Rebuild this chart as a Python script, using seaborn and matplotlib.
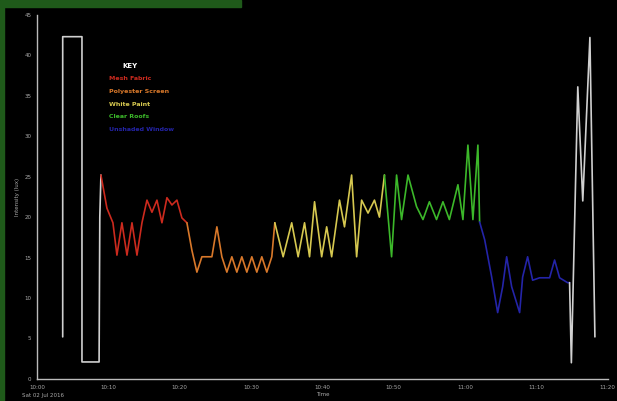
import matplotlib
matplotlib.use("Agg")
import matplotlib.pyplot as plt
import seaborn as sns
import pandas as pd
from matplotlib.patches import Rectangle
from matplotlib.ticker import MultipleLocator

# ---- data (time in minutes, intensity) ----
white_start_t = [3.6, 3.6, 6.3, 6.3, 8.7, 8.8, 8.96]
white_start_v = [5.2, 42.3, 42.3, 2.1, 2.1, 20.0, 25.2]

red_t = [8.96, 9.8, 10.64, 11.2, 11.9, 12.61, 13.31, 14.01, 14.71, 15.41, 16.11, 16.81, 17.51,
         18.21, 18.91, 19.61, 20.31, 21.01]
red_v = [25.2, 21.1, 19.3, 15.3, 19.3, 15.3, 19.3, 15.3, 19.3, 22.1, 20.6, 22.1, 19.3,
         22.4, 21.5, 22.1, 19.9, 19.3]

orange_t = [21.01, 21.71, 22.41, 23.11, 24.51, 25.21, 25.91, 26.61, 27.31, 28.01, 28.71, 29.41,
            30.11, 30.81, 31.51, 32.21, 32.91, 33.33]
orange_v = [19.3, 15.9, 13.2, 15.1, 15.1, 18.8, 15.1, 13.2, 15.1, 13.2, 15.1, 13.2,
            15.1, 13.2, 15.1, 13.2, 15.1, 19.3]

yellow_t = [33.33, 34.5, 35.7, 36.6, 37.5, 38.2, 38.9, 39.9, 40.6, 41.3, 42.4, 43.1, 44.1, 44.8,
            45.5, 46.4, 47.3, 48.0, 48.7]
yellow_v = [19.3, 15.1, 19.3, 15.1, 19.3, 15.1, 21.9, 15.1, 18.8, 15.1, 22.1, 18.8, 25.2, 15.1,
            22.1, 20.5, 22.1, 20.0, 25.2]

green_t = [48.7, 49.7, 50.4, 51.1, 52.0, 53.2, 54.1, 55.0, 56.0, 56.9, 57.8, 59.0, 59.7, 60.4,
           61.1, 61.8, 62.04]
green_v = [25.2, 15.1, 25.2, 19.7, 25.2, 21.3, 19.7, 21.9, 19.7, 21.9, 19.7, 24.0, 19.7, 28.9,
           19.7, 28.9, 19.4]

blue_t = [62.04, 62.75, 63.73, 64.57, 65.27, 65.83, 66.53, 67.65, 68.07, 68.77, 69.47, 70.45,
          71.85, 72.55, 73.25, 74.37, 74.65]
blue_v = [19.4, 17.2, 12.6, 8.2, 11.4, 15.1, 11.4, 8.2, 12.6, 15.1, 12.2, 12.5,
          12.5, 14.7, 12.5, 11.9, 11.9]

white_end_t = [74.65, 74.9, 75.8, 76.5, 77.5, 78.2]
white_end_v = [11.9, 2.0, 36.1, 22.0, 42.2, 5.2]

x_ticks = [0, 10, 20, 30, 40, 50, 60, 70, 80]
x_tick_labels = ["10:00", "10:10", "10:20", "10:30", "10:40", "10:50", "11:00", "11:10", "11:20"]
y_ticks = [0, 5, 10, 15, 20, 25, 30, 35, 40, 45]

legend_labels = ["Mesh Fabric", "Polyester Screen", "White Paint", "Clear Roofs", "Unshaded Window"]

series = [
    ("cal_start", white_start_t, white_start_v),
    ("red", red_t, red_v),
    ("orange", orange_t, orange_v),
    ("yellow", yellow_t, yellow_v),
    ("green", green_t, green_v),
    ("blue", blue_t, blue_v),
    ("cal_end", white_end_t, white_end_v),
]
frames = []
for name, t, v in series:
    frames.append(pd.DataFrame({"time": t, "value": v, "series": name}))
df = pd.concat(frames, ignore_index=True)

palette = {
    "cal_start": "#d0d0d0",
    "red": "#cc2a1e",
    "orange": "#d8782a",
    "yellow": "#d6c850",
    "green": "#3cb82a",
    "blue": "#2424a8",
    "cal_end": "#d0d0d0",
}

sns.set_style("dark")
fig = plt.figure(figsize=(6.17, 4.01), dpi=100, facecolor="black")
ax = fig.add_axes([0.06, 0.055, 0.925, 0.908])
ax.set_facecolor("black")

sns.lineplot(data=df, x="time", y="value", hue="series", palette=palette,
             sort=False, estimator=None, units="series", legend=False,
             linewidth=1.2, ax=ax)

ax.set_xlim(0, 80)
ax.set_ylim(0, 45)
ax.set_xticks(x_ticks)
ax.set_xticklabels(x_tick_labels)
ax.set_yticks(y_ticks)
ax.xaxis.set_minor_locator(MultipleLocator(2))
ax.grid(False)
for s in ["top", "right"]:
    ax.spines[s].set_visible(False)
for s in ["left", "bottom"]:
    ax.spines[s].set_visible(True)
    ax.spines[s].set_color("#bbbbbb")
    ax.spines[s].set_linewidth(1.0)
ax.tick_params(axis="both", colors="#aaaaaa", labelsize=4, length=2, width=0.6,
               direction="out", pad=2)
ax.tick_params(axis="x", which="minor", colors="#888888", length=1.2, width=0.5)
ax.set_xlabel("Time", color="#aaaaaa", fontsize=4, labelpad=2)
ax.set_ylabel("Intensity (lux)", color="#aaaaaa", fontsize=4, labelpad=3)

fig.text(0.035, 0.008, "Sat 02 Jul 2016", color="#aaaaaa", fontsize=4, ha="left", va="bottom")

# key
legend_colors = ["#cc2a1e", "#d8782a", "#d6c850", "#3cb82a", "#2424a8"]
ax.text(0.163, 0.86, "KEY", transform=ax.transAxes, color="white", fontsize=5,
        fontweight="bold", ha="center", va="center")
for i, (lab, col) in enumerate(zip(legend_labels, legend_colors)):
    ax.text(0.126, 0.824 - i * 0.0345, lab, transform=ax.transAxes, color=col,
            fontsize=4.5, fontweight="bold", ha="left", va="center")

# window frame (green border)
fig.patches.append(Rectangle((0, 0.982), 0.39, 0.018, transform=fig.transFigure,
                             color="#1f5a1a", zorder=0))
fig.patches.append(Rectangle((0, 0), 0.006, 1, transform=fig.transFigure,
                             color="#1f5a1a", zorder=0))

fig.savefig("out.png", dpi=100, facecolor="black")
